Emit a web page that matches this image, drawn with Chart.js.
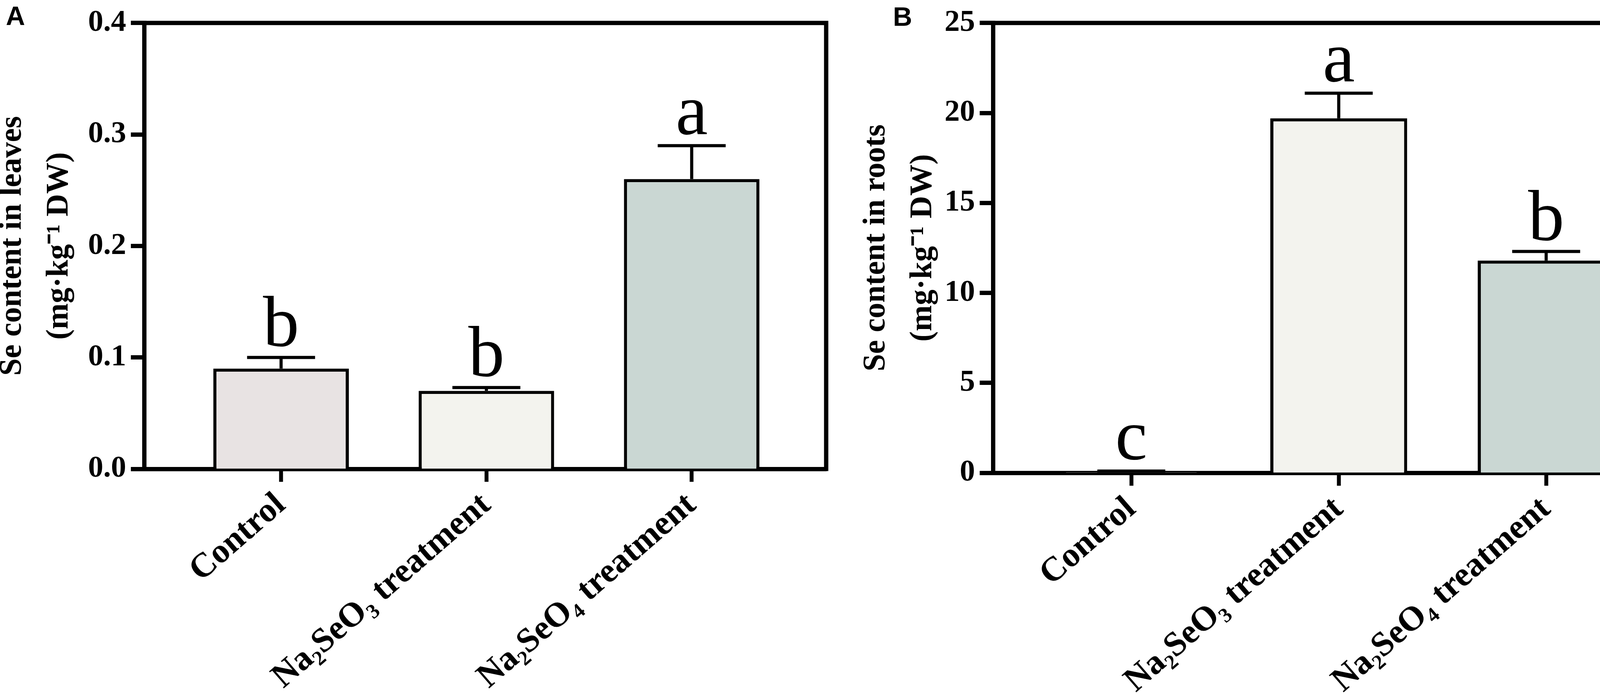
<!DOCTYPE html>
<html>
<head>
<meta charset="utf-8">
<script src="https://cdn.jsdelivr.net/npm/chart.js@4.4.1/dist/chart.umd.min.js"></script>
<style>
html, body { margin: 0; padding: 0; background: #fff; }
canvas { position: absolute; top: 0; }
#chartA { left: 0; }
#chartB { left: 2160px; }
.tag { position: absolute; font-family: 'Liberation Sans', Arial, sans-serif; font-weight: bold; font-size: 68px; line-height: 1; color: #000; }
</style>
</head>
<body>
<canvas id="chartA" width="2160" height="1776"></canvas>
<canvas id="chartB" width="2157" height="1776"></canvas>
<div class="tag" style="left:15px; top:6px;">A</div>
<div class="tag" style="left:2286px; top:8px;">B</div>
<script>
document.addEventListener("DOMContentLoaded", function(){

// categories shared by both panels
const categories = ['Control', 'Na₂SeO₃ treatment', 'Na₂SeO₄ treatment'];
const barColors = ['#e8e3e3', '#f3f3ee', '#cad7d3'];

// panel A - leaves
const leafMeans = [0.09, 0.07, 0.26];
const leafSD = [0.01, 0.003, 0.03];
const leafLetters = ['b', 'b', 'a'];
const leafTicks = [0, 0.1, 0.2, 0.3, 0.4];

// panel B - roots
const rootMeans = [0.04, 19.7, 11.8];
const rootSD = [0.06, 1.4, 0.5];
const rootLetters = ['c', 'a', 'b'];
const rootTicks = [0, 5, 10, 15, 20, 25];

const serif = "'Liberation Serif', 'Times New Roman', serif";

// error bars (upper only) and significance letters
const errorBars = {
  id: 'errorBars',
  afterDatasetsDraw(chart, args, opts) {
    const ctx = chart.ctx;
    const x = chart.scales.x, y = chart.scales.y;
    ctx.save();
    ctx.strokeStyle = '#000';
    ctx.fillStyle = '#000';
    ctx.lineWidth = 8;
    ctx.font = 'normal 185px ' + serif;
    ctx.textAlign = 'center';
    ctx.textBaseline = 'alphabetic';
    opts.means.forEach((m, i) => {
      const px = x.getPixelForValue(i + 1);
      const yTop = y.getPixelForValue(m + opts.sd[i]);
      const yBar = y.getPixelForValue(m);
      ctx.beginPath();
      ctx.moveTo(px, yBar);
      ctx.lineTo(px, yTop);
      ctx.moveTo(px - 87, yTop);
      ctx.lineTo(px + 87, yTop);
      ctx.stroke();
      ctx.fillText(opts.letters[i], px, yTop - 30);
    });
    ctx.restore();
  }
};

// closes the box on top and right
const frame = {
  id: 'frame',
  afterDraw(chart) {
    const ctx = chart.ctx, a = chart.chartArea;
    ctx.save();
    ctx.strokeStyle = '#000';
    ctx.lineWidth = 11;
    ctx.beginPath();
    ctx.moveTo(a.left - 5.5, a.top);
    ctx.lineTo(a.right, a.top);
    ctx.lineTo(a.right, a.bottom + 5.5);
    ctx.stroke();
    ctx.restore();
  }
};

function makeChart(id, means, sd, letters, ticks, cfg) {
  return new Chart(document.getElementById(id), {
    type: 'bar',
    data: {
      datasets: [{
        data: means.map((v, i) => ({x: i + 1, y: v})),
        backgroundColor: barColors,
        borderColor: '#000',
        borderWidth: 8,
        borderSkipped: 'start',
        barPercentage: 0.66,
        categoryPercentage: 1
      }]
    },
    options: {
      responsive: false,
      animation: false,
      devicePixelRatio: 1,
      layout: {autoPadding: false, padding: {top: cfg.top, right: cfg.right, left: 0, bottom: 0}},
      plugins: {
        legend: {display: false},
        tooltip: {enabled: false},
        errorBars: {means: means, sd: sd, letters: letters}
      },
      scales: {
        x: {
          type: 'linear',
          min: 0.333,
          max: 3.655,
          offset: false,
          z: 1,
          afterBuildTicks: s => { s.ticks = categories.map((c, i) => ({value: i + 1})); },
          afterFit: s => { s.height = cfg.xHeight; },
          grid: {offset: false, drawOnChartArea: false, drawTicks: true, tickLength: 33, tickWidth: 10, tickColor: '#000'},
          border: {display: true, width: 11, color: '#000'},
          ticks: {
            autoSkip: false, minRotation: 41, maxRotation: 41, padding: 8, color: '#000',
            font: {family: serif, weight: 'bold', size: 88},
            callback: v => categories[v - 1]
          }
        },
        y: {
          min: ticks[0],
          max: ticks[ticks.length - 1],
          z: 1,
          afterBuildTicks: s => { s.ticks = ticks.map(v => ({value: v})); },
          afterFit: s => { s.width = cfg.yWidth; },
          grid: {drawOnChartArea: false, drawTicks: true, tickLength: 34, tickWidth: 11, tickColor: '#000'},
          border: {display: true, width: 11, color: '#000'},
          ticks: {
            padding: 12, color: '#000',
            font: {family: serif, weight: 'bold', size: 78},
            callback: v => cfg.fmt(v)
          },
          title: {
            display: true, text: cfg.title, color: '#000',
            font: {family: serif, weight: 'bold', size: 80, lineHeight: '120px'},
            padding: {top: cfg.titlePad, bottom: 0}
          }
        }
      }
    },
    plugins: [errorBars, frame]
  });
}

makeChart('chartA', leafMeans, leafSD, leafLetters, leafTicks, {
  top: 28, right: 45, xHeight: 576, yWidth: 369, titlePad: -28,
  fmt: v => v.toFixed(1),
  title: ['Se content in leaves', '(mg·kg⁻¹ DW)']
});

makeChart('chartB', rootMeans, rootSD, rootLetters, rootTicks, {
  top: 40, right: 11, xHeight: 566, yWidth: 382, titlePad: 23,
  fmt: v => String(v),
  title: ['Se content in roots', '(mg·kg⁻¹ DW)']
});

});
</script>
</body>
</html>
